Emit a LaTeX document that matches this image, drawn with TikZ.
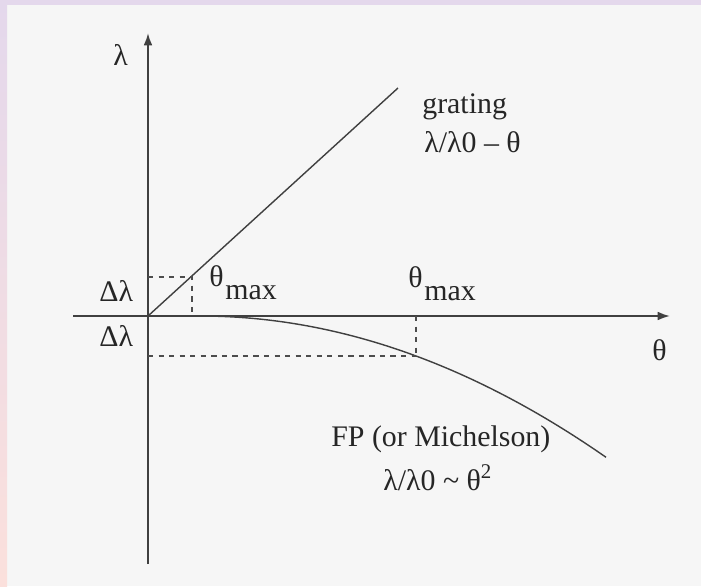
\documentclass[tikz,border=0pt]{standalone}
\usepackage{fontspec}
\setmainfont{Liberation Serif}
\usepackage{xcolor}
\usetikzlibrary{arrows.meta, positioning}
\definecolor{framelav}{HTML}{E4D8EC}
\definecolor{framepink}{HTML}{FBE0DC}
\definecolor{paper}{HTML}{F6F6F6}

\begin{document}
\begin{tikzpicture}[
    x=0.02cm, y=-0.02cm,
    every node/.style={font=\fontsize{17}{20}\selectfont, text=black!85, inner sep=0pt},
    lbl/.style={anchor=base west},
    axis/.style={line width=1.1pt, black!75, -{Latex[length=7pt,width=5pt]}},
    curve/.style={line width=0.8pt, black!75},
    guide/.style={line width=0.7pt, black!70, dash pattern=on 3pt off 3pt}
]
% frame and paper
\fill[paper] (0,0) rectangle (701,586);
\fill[framelav] (0,0) rectangle (701,5);
\shade[top color=framelav, bottom color=framepink] (0,0) rectangle (7,586);
\useasboundingbox (0,0) rectangle (701,586);

% axes
\coordinate (O) at (148,316);
\coordinate (ybot) at (148,564);
\coordinate (ytop) at (148,33);
\coordinate (xleft) at (73,316);
\coordinate (xright) at (670,316);
\draw[axis] (ybot) -- (ytop);
\draw[axis] (xleft) -- (xright);
\node[lbl] (lam) at (113,65) {λ};
\node[lbl] (th) at (652,360) {θ};

% grating line
\coordinate (gend) at (398,88);
\coordinate (gmax) at (192,277);
\draw[curve] (O) -- (gend);
\draw[guide] (O |- gmax) -- (gmax) -- (gmax |- O);

% FP curve
\draw[curve] plot[domain=206:606, samples=60] (\x, {316+8.57*((\x-200)/100)^2});
\coordinate (fpmax) at (416,356);
\draw[guide] (O |- fpmax) -- (fpmax);
\draw[guide] (fpmax |- O) -- (fpmax);

% labels
\node[lbl] (dlup) at (99,301) {Δλ};
\node[lbl] (dldown) at (99,346) {Δλ};
\node[lbl] (thmaxg) at (209,286) {θ\kern1pt\raisebox{-7.4pt}{max}};
\node[lbl] (thmaxfp) at (408,287) {θ\kern1pt\raisebox{-7.4pt}{max}};
\node[lbl] (grat) at (422,113) {grating};
\node[lbl] (gratlaw) at (424,152) {λ/λ0 – θ};
\node[lbl] (fp) at (331,446) {FP (or Michelson)};
\node[lbl] (fplaw) at (383,490) {λ/λ0 \char"007E\ θ\textsuperscript{2}};
\end{tikzpicture}
\end{document}
